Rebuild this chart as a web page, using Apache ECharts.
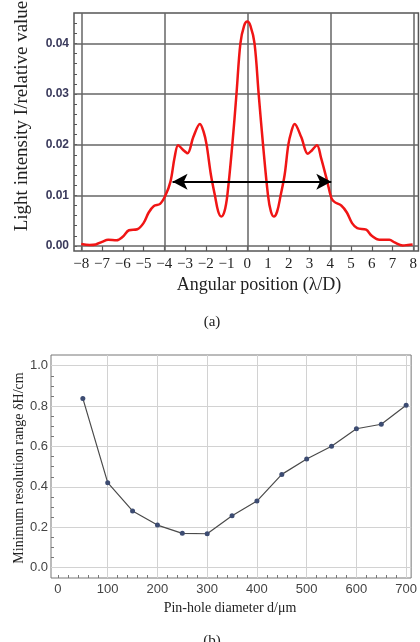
<!DOCTYPE html>
<html>
<head>
<meta charset="utf-8">
<script src="https://cdn.jsdelivr.net/npm/echarts@6/dist/echarts.min.js"></script>
<style>
  html, body { margin: 0; background: #fff; }
  #chart { width: 420px; height: 642px; }
</style>
</head>
<body>
<div id="chart"></div>
<script>
// (a) light intensity vs angular position
const angle = [-8.0, -7.6, -7.3, -7.0, -6.7, -6.3, -6.0, -5.7, -5.3, -5.0, -4.75, -4.5, -4.2, -3.95, -3.7, -3.5, -3.33, -3.1, -2.88, -2.6, -2.28, -2.1, -1.96, -1.75, -1.56, -1.4, -1.25, -1.1, -0.96, -0.72, -0.52, -0.33, -0.15, 0,
  0.15, 0.35, 0.55, 0.76, 1.0, 1.14, 1.28, 1.44, 1.61, 1.8, 1.98, 2.12, 2.28, 2.6, 2.92, 3.1, 3.36, 3.55, 3.84, 4.05, 4.2, 4.53, 4.8, 5.05, 5.3, 5.73, 6.0, 6.37, 6.85, 7.1, 7.49, 7.75, 7.97]
const intensity = [0.0004, 0.0002, 0.0003, 0.0008, 0.0012, 0.0011, 0.0018, 0.0031, 0.0033, 0.0045, 0.0066, 0.0079, 0.0083, 0.0099, 0.0127, 0.0175, 0.0199, 0.0190, 0.0183, 0.0215, 0.0241, 0.0225, 0.0200, 0.0140, 0.0100, 0.0068, 0.0058, 0.0068, 0.0100, 0.0200, 0.0300, 0.0400, 0.0435, 0.0443,
  0.0435, 0.0400, 0.0300, 0.0200, 0.0100, 0.0068, 0.0058, 0.0068, 0.0100, 0.0140, 0.0200, 0.0225, 0.0241, 0.0215, 0.0182, 0.0188, 0.0199, 0.0175, 0.0130, 0.0095, 0.0087, 0.0080, 0.0066, 0.0045, 0.0035, 0.0032, 0.0020, 0.0012, 0.0012, 0.0007, 0.0001, 0.0002, 0.0003]
const angleTicks = [-8, -7, -6, -5, -4, -3, -2, -1, 0, 1, 2, 3, 4, 5, 6, 7, 8]
const angleGridLines = [-8, -4, 0, 4, 8]
const intensityTicks = [0, 0.01, 0.02, 0.03, 0.04]
const arrowEnds = [-3.6, 4.05]
const arrowLevel = 0.0127

// (b) minimum resolution range vs pin-hole diameter
const diameter = [50, 100, 150, 200, 250, 300, 350, 400, 450, 500, 550, 600, 650, 700]
const resolution = [0.838, 0.421, 0.281, 0.211, 0.170, 0.168, 0.257, 0.330, 0.462, 0.538, 0.601, 0.688, 0.710, 0.804]
const diameterTicks = [0, 100, 200, 300, 400, 500, 600, 700]
const diameterGridLines = [100, 200, 300, 400, 500, 600, 700]
const resolutionTicks = [0, 0.2, 0.4, 0.6, 0.8, 1.0]

const minorA = []
for (let v = 0; v <= 0.0451; v += 0.002) minorA.push(+v.toFixed(4))
const minorBx = []
for (let v = 0; v <= 700; v += 20) minorBx.push(v)
const minorBy = []
for (let v = 0; v <= 1.001; v += 0.05) minorBy.push(+v.toFixed(2))

const serif = "'Liberation Serif', 'DejaVu Serif', serif"
const sans = "'Liberation Sans', Arial, sans-serif"

const chart = echarts.init(document.getElementById('chart'))

const option = {
  animation: false,
  grid: [
    { left: 74, right: 1, top: 13, bottom: 391, show: true, borderColor: '#555', borderWidth: 1.5 },
    { left: 51, right: 7, top: 355, bottom: 64, show: true, borderColor: '#777', borderWidth: 1 },
  ],
  xAxis: [
    {
      type: 'value', gridIndex: 0, min: -8.35, max: 8.25,
      axisLine: { show: false, onZero: false },
      splitLine: { show: false },
      axisTick: { customValues: angleTicks, inside: true, length: 5, lineStyle: { color: '#555', width: 1.2 } },
      axisLabel: {
        customValues: angleTicks, margin: 6,
        formatter: (v) => String(v).replace('-', '\u2212'),
        fontFamily: serif, fontSize: 15, color: '#222',
      },
    },
    {
      type: 'value', gridIndex: 1, min: -14, max: 710,
      axisLine: { show: false, onZero: false },
      splitLine: { show: false },
      axisTick: { customValues: minorBx, inside: true, length: 3, lineStyle: { color: '#777' } },
      axisLabel: { customValues: diameterTicks, margin: 5, fontFamily: sans, fontSize: 13, color: '#444' },
    },
  ],
  yAxis: [
    {
      type: 'value', gridIndex: 0, min: -0.001, max: 0.046,
      axisLine: { show: false, onZero: false },
      splitLine: { show: false },
      axisTick: { customValues: minorA, inside: true, length: 3, lineStyle: { color: '#555' } },
      axisLabel: {
        customValues: intensityTicks, margin: 5,
        formatter: (v) => v.toFixed(2),
        fontFamily: "'Liberation Sans Narrow', 'Liberation Sans', sans-serif",
        fontSize: 12, fontWeight: 'bold', color: '#3a3a5c',
      },
    },
    {
      type: 'value', gridIndex: 1, min: -0.051, max: 1.053,
      axisLine: { show: false, onZero: false },
      splitLine: { show: false },
      axisTick: { customValues: minorBy, inside: true, length: 3, lineStyle: { color: '#777' } },
      axisLabel: {
        customValues: resolutionTicks, margin: 3,
        formatter: (v) => v.toFixed(1),
        fontFamily: sans, fontSize: 13, color: '#444',
      },
    },
  ],
  series: [
    {
      // grid lines of (a)
      type: 'line', xAxisIndex: 0, yAxisIndex: 0, data: [], z: 1,
      markLine: {
        z: 1, silent: true, symbol: 'none', label: { show: false },
        lineStyle: { color: '#666', width: 1.5, type: 'solid' },
        data: angleGridLines.map((v) => ({ xAxis: v }))
          .concat(intensityTicks.map((v) => ({ yAxis: v }))),
      },
    },
    {
      type: 'line', xAxisIndex: 0, yAxisIndex: 0, z: 3,
      data: angle.map((x, i) => [x, intensity[i]]),
      smooth: 0.35, showSymbol: false,
      lineStyle: { color: '#f01515', width: 2.5 },
    },
    {
      // double-headed arrow
      type: 'line', xAxisIndex: 0, yAxisIndex: 0, data: [], z: 4,
      markLine: {
        z: 6, silent: true, symbol: ['arrow', 'arrow'], symbolSize: [12, 15],
        label: { show: false },
        lineStyle: { color: '#000', width: 2.2, type: 'solid' },
        data: [[{ coord: [arrowEnds[0], arrowLevel] }, { coord: [arrowEnds[1], arrowLevel] }]],
      },
    },
    {
      // grid lines of (b)
      type: 'line', xAxisIndex: 1, yAxisIndex: 1, data: [], z: 1,
      markLine: {
        z: 1, silent: true, symbol: 'none', label: { show: false },
        lineStyle: { color: '#d2d2d2', width: 1, type: 'solid' },
        data: diameterGridLines.map((v) => ({ xAxis: v }))
          .concat(resolutionTicks.map((v) => ({ yAxis: v }))),
      },
    },
    {
      type: 'line', xAxisIndex: 1, yAxisIndex: 1, z: 3,
      data: diameter.map((x, i) => [x, resolution[i]]),
      symbol: 'circle', symbolSize: 5,
      itemStyle: { color: '#3d4c72' },
      lineStyle: { color: '#4a4a4a', width: 1.2 },
    },
  ],
  graphic: [
    {
      type: 'text', x: 22, y: 116, rotation: Math.PI / 2,
      style: { text: 'Light intensity I/relative value', font: '19px ' + serif, fill: '#222', align: 'center', verticalAlign: 'middle' },
    },
    {
      type: 'text', x: 259, y: 285,
      style: { text: 'Angular position (\u03bb/D)', font: '18px ' + serif, fill: '#222', align: 'center', verticalAlign: 'middle' },
    },
    {
      type: 'text', x: 212, y: 322,
      style: { text: '(a)', font: '15px ' + serif, fill: '#222', align: 'center', verticalAlign: 'middle' },
    },
    {
      type: 'text', x: 19, y: 468, rotation: Math.PI / 2,
      style: { text: 'Minimum resolution range \u03b4H/cm', font: '14px ' + serif, fill: '#222', align: 'center', verticalAlign: 'middle' },
    },
    {
      type: 'text', x: 230, y: 608,
      style: { text: 'Pin-hole diameter d/\u03bcm', font: '14px ' + serif, fill: '#222', align: 'center', verticalAlign: 'middle' },
    },
    {
      type: 'text', x: 212, y: 641,
      style: { text: '(b)', font: '15px ' + serif, fill: '#222', align: 'center', verticalAlign: 'middle' },
    },
  ],
}

chart.setOption(option)
</script>
</body>
</html>
